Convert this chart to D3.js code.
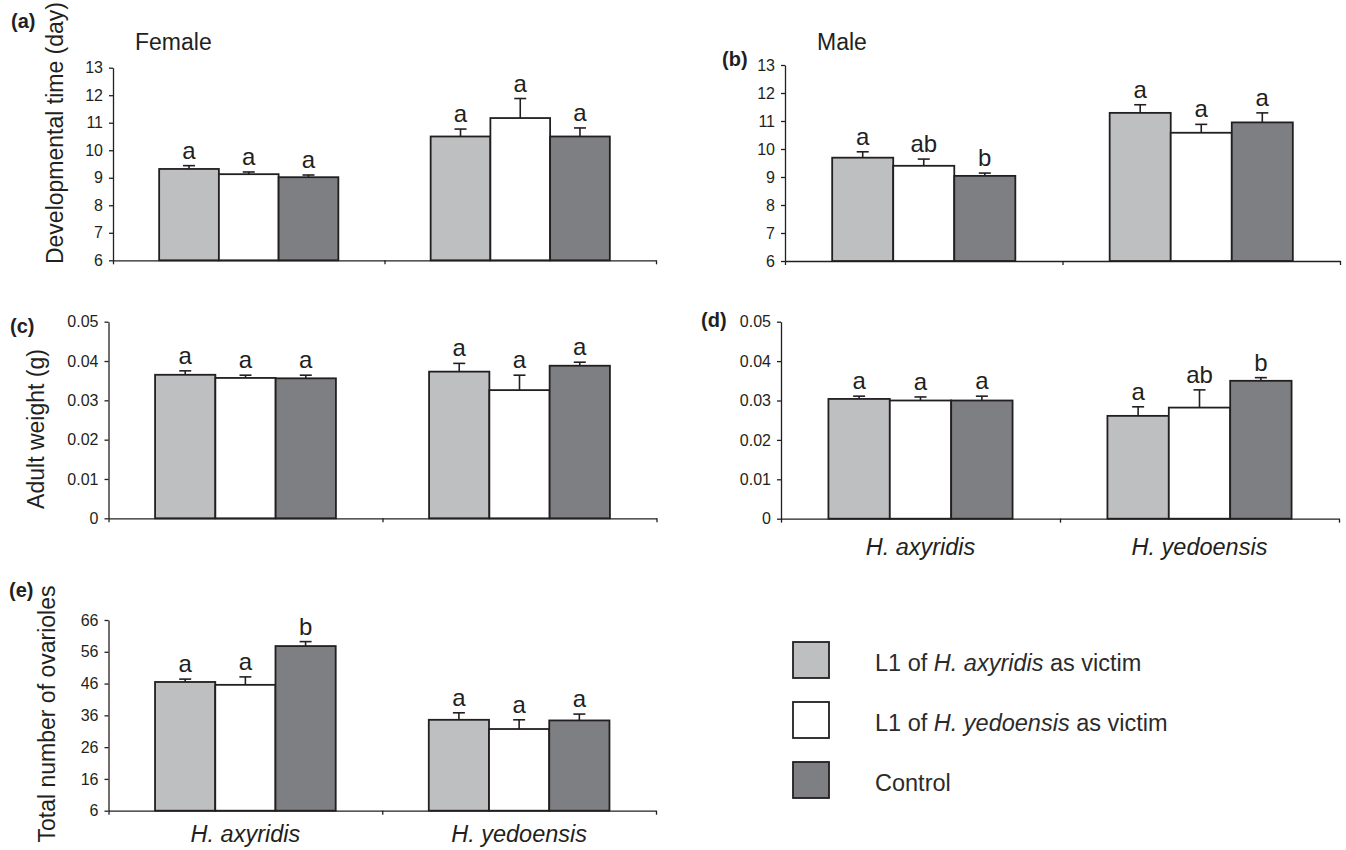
<!DOCTYPE html>
<html>
<head>
<meta charset="utf-8">
<script src="https://cdn.jsdelivr.net/npm/d3@7"></script>
<style>
body { margin: 0; background: #fff; }
svg text { font-family: "Liberation Sans", Arial, sans-serif; fill: #231f20; }
</style>
</head>
<body>
<script>
"use strict";
const groups = ["H. axyridis", "H. yedoensis"];
const treatments = ["L1 of H. axyridis as victim", "L1 of H. yedoensis as victim", "Control"];
const colors = ["#bebfc1", "#ffffff", "#7e7f83"];

// (a) developmental time, female
const devFemaleMean = [9.32, 9.13, 9.02, 10.5, 11.17, 10.5];
const devFemaleSE = [0.12, 0.08, 0.08, 0.27, 0.71, 0.31];
const devFemaleLetters = ["a", "a", "a", "a", "a", "a"];
// (b) developmental time, male
const devMaleMean = [9.69, 9.4, 9.04, 11.29, 10.58, 10.95];
const devMaleSE = [0.21, 0.24, 0.1, 0.29, 0.3, 0.34];
const devMaleLetters = ["a", "ab", "b", "a", "a", "a"];
// (c) adult weight, female
const wFemaleMean = [0.0365, 0.0357, 0.0356, 0.0373, 0.0326, 0.0388];
const wFemaleSE = [0.001, 0.0007, 0.0008, 0.0021, 0.0038, 0.0009];
const wFemaleLetters = ["a", "a", "a", "a", "a", "a"];
// (d) adult weight, male
const wMaleMean = [0.0304, 0.03, 0.03, 0.0261, 0.0282, 0.035];
const wMaleSE = [0.0007, 0.0009, 0.0011, 0.0023, 0.0045, 0.0008];
const wMaleLetters = ["a", "a", "a", "a", "ab", "b"];
// (e) ovarioles
const ovMean = [46.5, 45.6, 57.8, 34.6, 31.7, 34.4];
const ovSE = [0.9, 2.5, 1.4, 2.2, 2.9, 2.0];
const ovLetters = ["a", "a", "b", "a", "a", "a"];

const devTicks = [6, 7, 8, 9, 10, 11, 12, 13];
const wTicks = [0, 0.01, 0.02, 0.03, 0.04, 0.05];
const ovTicks = [6, 16, 26, 36, 46, 56, 66];

const svg = d3.select("body").append("svg").attr("width", 1346).attr("height", 850);

function panel(p) {
	const g = svg.append("g");
	const xg = d3.scaleBand().domain(groups).range(p.xr).paddingInner(0.34).paddingOuter(0.17);
	const xt = d3.scaleBand().domain(treatments).range([0, xg.bandwidth()]);
	const y = d3.scaleLinear().domain(p.domain).range(p.yr);
	const rows = p.mean.map((m, i) => ({group: groups[Math.floor(i / 3)], t: i % 3, mean: m, se: p.se[i], letter: p.letters[i]}));

	const yAxis = d3.axisLeft(y).tickValues(p.ticks).tickFormat(p.fmt).tickSize(4).tickSizeOuter(0).tickPadding(6);
	const ya = g.append("g").attr("transform", "translate(" + p.xr[0] + ",0)").call(yAxis);
	ya.selectAll("text").attr("font-size", 16).attr("font-family", null);
	ya.selectAll("path,line").attr("stroke", "#231f20").attr("stroke-width", 1.3);

	const xl = d3.scaleLinear().domain([0, 2]).range(p.xr);
	const xAxis = d3.axisBottom(xl).tickValues([0, 1, 2]).tickFormat("").tickSize(4).tickSizeOuter(0);
	const xa = g.append("g").attr("transform", "translate(0," + p.yr[0] + ")").call(xAxis);
	xa.selectAll("path,line").attr("stroke", "#231f20").attr("stroke-width", 1.3);

	g.selectAll("rect.bar").data(rows).enter().append("rect")
		.attr("class", "bar")
		.attr("x", d => xg(d.group) + xt(treatments[d.t]))
		.attr("y", d => y(d.mean))
		.attr("width", xt.bandwidth())
		.attr("height", d => y(p.domain[0]) - y(d.mean))
		.attr("fill", d => colors[d.t])
		.attr("stroke", "#231f20")
		.attr("stroke-width", 1.8);

	const cx = d => xg(d.group) + xt(treatments[d.t]) + xt.bandwidth() / 2;
	g.selectAll("line.err").data(rows).enter().append("line")
		.attr("class", "err")
		.attr("x1", cx).attr("x2", cx)
		.attr("y1", d => y(d.mean)).attr("y2", d => y(d.mean + d.se))
		.attr("stroke", "#231f20").attr("stroke-width", 1.6);
	g.selectAll("line.cap").data(rows).enter().append("line")
		.attr("class", "cap")
		.attr("x1", d => cx(d) - 6).attr("x2", d => cx(d) + 6)
		.attr("y1", d => y(d.mean + d.se)).attr("y2", d => y(d.mean + d.se))
		.attr("stroke", "#231f20").attr("stroke-width", 1.6);
	g.selectAll("text.letter").data(rows).enter().append("text")
		.attr("class", "letter")
		.attr("x", cx)
		.attr("y", d => y(d.mean + d.se) - 7)
		.attr("text-anchor", "middle")
		.attr("font-size", 24)
		.text(d => d.letter);

	g.append("text").attr("x", p.tag[0]).attr("y", p.tag[1])
		.attr("font-size", 20).attr("font-weight", "bold").text(p.tagText);

	if (p.ylabel) {
		g.append("text")
			.attr("transform", "translate(" + p.ylabel[0] + "," + p.ylabel[1] + ") rotate(-90)")
			.attr("text-anchor", "middle")
			.attr("font-size", 23)
			.text(p.ylabel[2]);
	}
	if (p.title) {
		g.append("text").attr("x", p.title[0]).attr("y", p.title[1]).attr("font-size", 23).text(p.title[2]);
	}
	if (p.xlabelY) {
		g.selectAll("text.xlab").data(groups).enter().append("text")
			.attr("class", "xlab")
			.attr("x", d => xg(d) + xg.bandwidth() / 2)
			.attr("y", p.xlabelY)
			.attr("text-anchor", "middle")
			.attr("font-size", 23.5)
			.attr("font-style", "italic")
			.text(d => d);
	}
}

const fmtInt = d3.format("d");
const fmtW = d => d === 0 ? "0" : d3.format(".2f")(d);

panel({xr: [113, 656], yr: [260.3, 67.7], domain: [6, 13], ticks: devTicks, fmt: fmtInt,
	mean: devFemaleMean, se: devFemaleSE, letters: devFemaleLetters,
	tag: [11, 28], tagText: "(a)", ylabel: [63, 133, "Developmental time (day)"], title: [135, 50, "Female"]});
panel({xr: [785, 1340], yr: [261, 65], domain: [6, 13], ticks: devTicks, fmt: fmtInt,
	mean: devMaleMean, se: devMaleSE, letters: devMaleLetters,
	tag: [722, 66], tagText: "(b)", title: [817, 50, "Male"]});
panel({xr: [108.5, 656.5], yr: [518.3, 321.7], domain: [0, 0.05], ticks: wTicks, fmt: fmtW,
	mean: wFemaleMean, se: wFemaleSE, letters: wFemaleLetters,
	tag: [10, 333], tagText: "(c)", ylabel: [44, 429, "Adult weight (g)"]});
panel({xr: [781, 1339], yr: [518.7, 321.7], domain: [0, 0.05], ticks: wTicks, fmt: fmtW,
	mean: wMaleMean, se: wMaleSE, letters: wMaleLetters,
	tag: [701, 327], tagText: "(d)", xlabelY: 555});
panel({xr: [108.5, 656], yr: [810.7, 620], domain: [6, 66], ticks: ovTicks, fmt: fmtInt,
	mean: ovMean, se: ovSE, letters: ovLetters,
	tag: [9, 597], tagText: "(e)", ylabel: [55, 714, "Total number of ovarioles"], xlabelY: 842});

// legend
const legendY = d3.scaleBand().domain(treatments).range([642, 822]);
const legend = svg.append("g");
legend.selectAll("rect").data(treatments).enter().append("rect")
	.attr("x", 793).attr("y", d => legendY(d))
	.attr("width", 36).attr("height", 36)
	.attr("fill", (d, i) => colors[i])
	.attr("stroke", "#231f20").attr("stroke-width", 1.8);
const lt = legend.selectAll("text").data(treatments).enter().append("text")
	.attr("x", 875).attr("y", d => legendY(d) + 29)
	.attr("font-size", 23.5).style("fill", "#2b2b2b");
lt.each(function(d) {
	const m = d.match(/^(L1 of )(H\. \w+)( as victim)$/);
	const t = d3.select(this);
	if (m) {
		t.append("tspan").text(m[1]);
		t.append("tspan").attr("font-style", "italic").text(m[2]);
		t.append("tspan").text(m[3]);
	} else {
		t.text(d);
	}
});
</script>
</body>
</html>
